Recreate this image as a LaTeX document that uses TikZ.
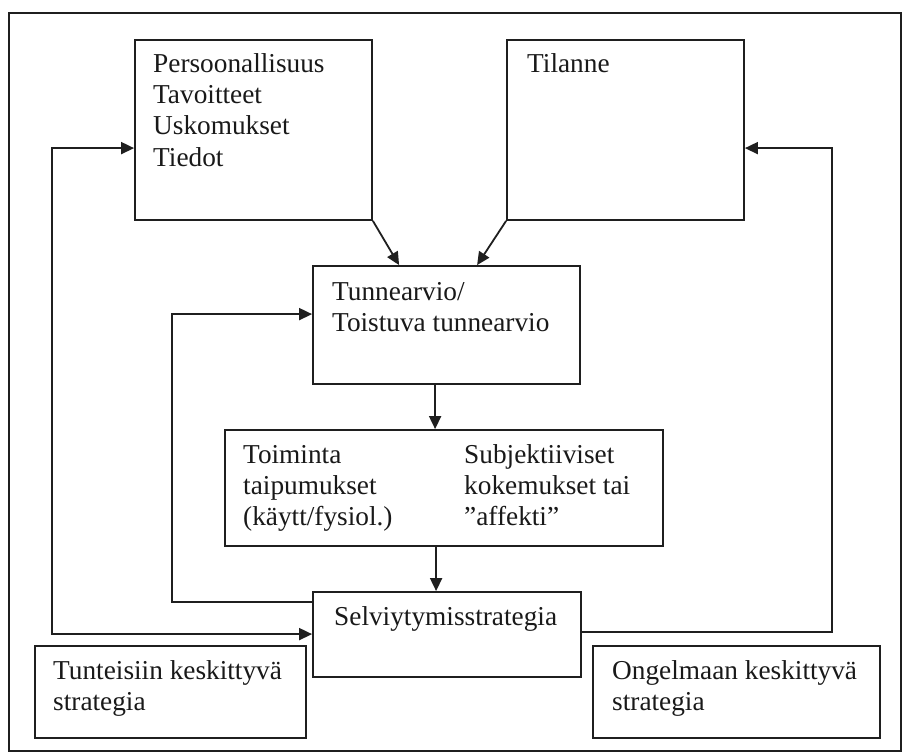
\documentclass[tikz,border=0pt]{standalone}
\usepackage{fontspec}
\setmainfont{Liberation Serif}
\usetikzlibrary{arrows.meta,calc}

\tikzset{
  ink/.style={draw=black!88, line width=1.8pt},
  box/.style={ink, rectangle, inner sep=0pt, fill=white},
  txt/.style={anchor=base west, inner sep=0pt, text=black!90,
              font=\fontsize{27.3}{31}\selectfont},
  tip/.style={Triangle[length=13pt,width=12pt]},
  arr/.style={ink, -{Triangle[length=13pt,width=12pt]}},
  darr/.style={ink, {Triangle[length=13pt,width=12pt]}-{Triangle[length=13pt,width=12pt]}},
}
% stacked lines with a fixed line distance; the baseline is that of the first line
\newcommand{\stack}[1]{\vtop{\baselineskip=31pt\lineskiplimit=-20pt\lineskip=0pt #1}}

\begin{document}
\begin{tikzpicture}[x=1pt,y=-1pt]
\useasboundingbox (0,0) rectangle (902,752);

% outer frame
\draw[ink, line width=2pt] (9,13) rectangle (900.5,750.5);

% boxes
\node[box, minimum width=237pt, minimum height=180pt] (pers)  at (253.5,130) {};
\node[box, minimum width=237pt, minimum height=180pt] (til)   at (625.5,130) {};
\node[box, minimum width=267pt, minimum height=118pt] (tun)   at (446.5,325) {};
\node[box, minimum width=438pt, minimum height=116pt] (toim)  at (444,488) {};
\node[box, minimum width=268pt, minimum height=85pt]  (selvi) at (447,634.5) {};
\node[box, minimum width=271pt, minimum height=92pt]  (tunt)  at (170.5,692) {};
\node[box, minimum width=287pt, minimum height=92pt]  (ong)   at (736.5,692) {};

% texts
\node[txt] (perstxt) at (153,73) {\stack{\hbox{Persoonallisuus}\hbox{Tavoitteet}\hbox{Uskomukset}\hbox{Tiedot}}};
\node[txt] (tiltxt) at (527,73) {Tilanne};
\node[txt] (tuntxt) at (332,300) {\stack{\hbox{Tunnearvio/}\hbox{Toistuva tunnearvio}}};
\node[txt] (toimtxt) at (243,463) {\stack{\hbox{Toiminta}\hbox{taipumukset}\hbox{(käytt/fysiol.)}}};
\node[txt] (subtxt) at (464,463) {\stack{\hbox{Subjektiiviset}\hbox{kokemukset tai}\hbox{”affekti”}}};
\node[txt] (selvitxt) at (334,625) {Selviytymisstrategia};
\node[txt] (tunttxt) at (53,679) {\stack{\hbox{Tunteisiin keskittyvä}\hbox{strategia}}};
\node[txt] (ongtxt) at (612,679) {\stack{\hbox{Ongelmaan keskittyvä}\hbox{strategia}}};

% connector points on the box borders
\coordinate (tunL) at ($(tun.north west)+(87,0)$);
\coordinate (tunR) at ($(tun.north west)+(165,0)$);
\coordinate (tunB) at ($(tun.south west)+(123,0)$);
\coordinate (toimB) at ($(toim.south west)+(212,0)$);
\coordinate (sA) at ($(selvi.north west)+(0,11)$);
\coordinate (sB) at ($(selvi.north west)+(0,43)$);
\coordinate (sC) at ($(selvi.north east)+(0,41)$);
\coordinate (tA) at ($(tun.north west)+(0,49)$);
\coordinate (pA) at ($(pers.north west)+(0,109)$);
\coordinate (tB) at ($(til.north east)+(0,109)$);
\coordinate (in1) at (172,0);
\coordinate (out1) at (52,0);
\coordinate (out2) at (832,0);

% connectors
\draw[arr] (pers.south east) -- (tunL);
\draw[arr] (til.south west) -- (tunR);
\draw[arr] (tunB) -- (tunB |- toim.north);
\draw[arr] (toimB) -- (toimB |- selvi.north);
\draw[arr] (sA) -| (in1 |- tA) -- (tA);
\draw[darr] (pA) -| (out1 |- sB) -- (sB);
\draw[arr] (sC) -| (out2 |- tB) -- (tB);
\end{tikzpicture}
\end{document}
